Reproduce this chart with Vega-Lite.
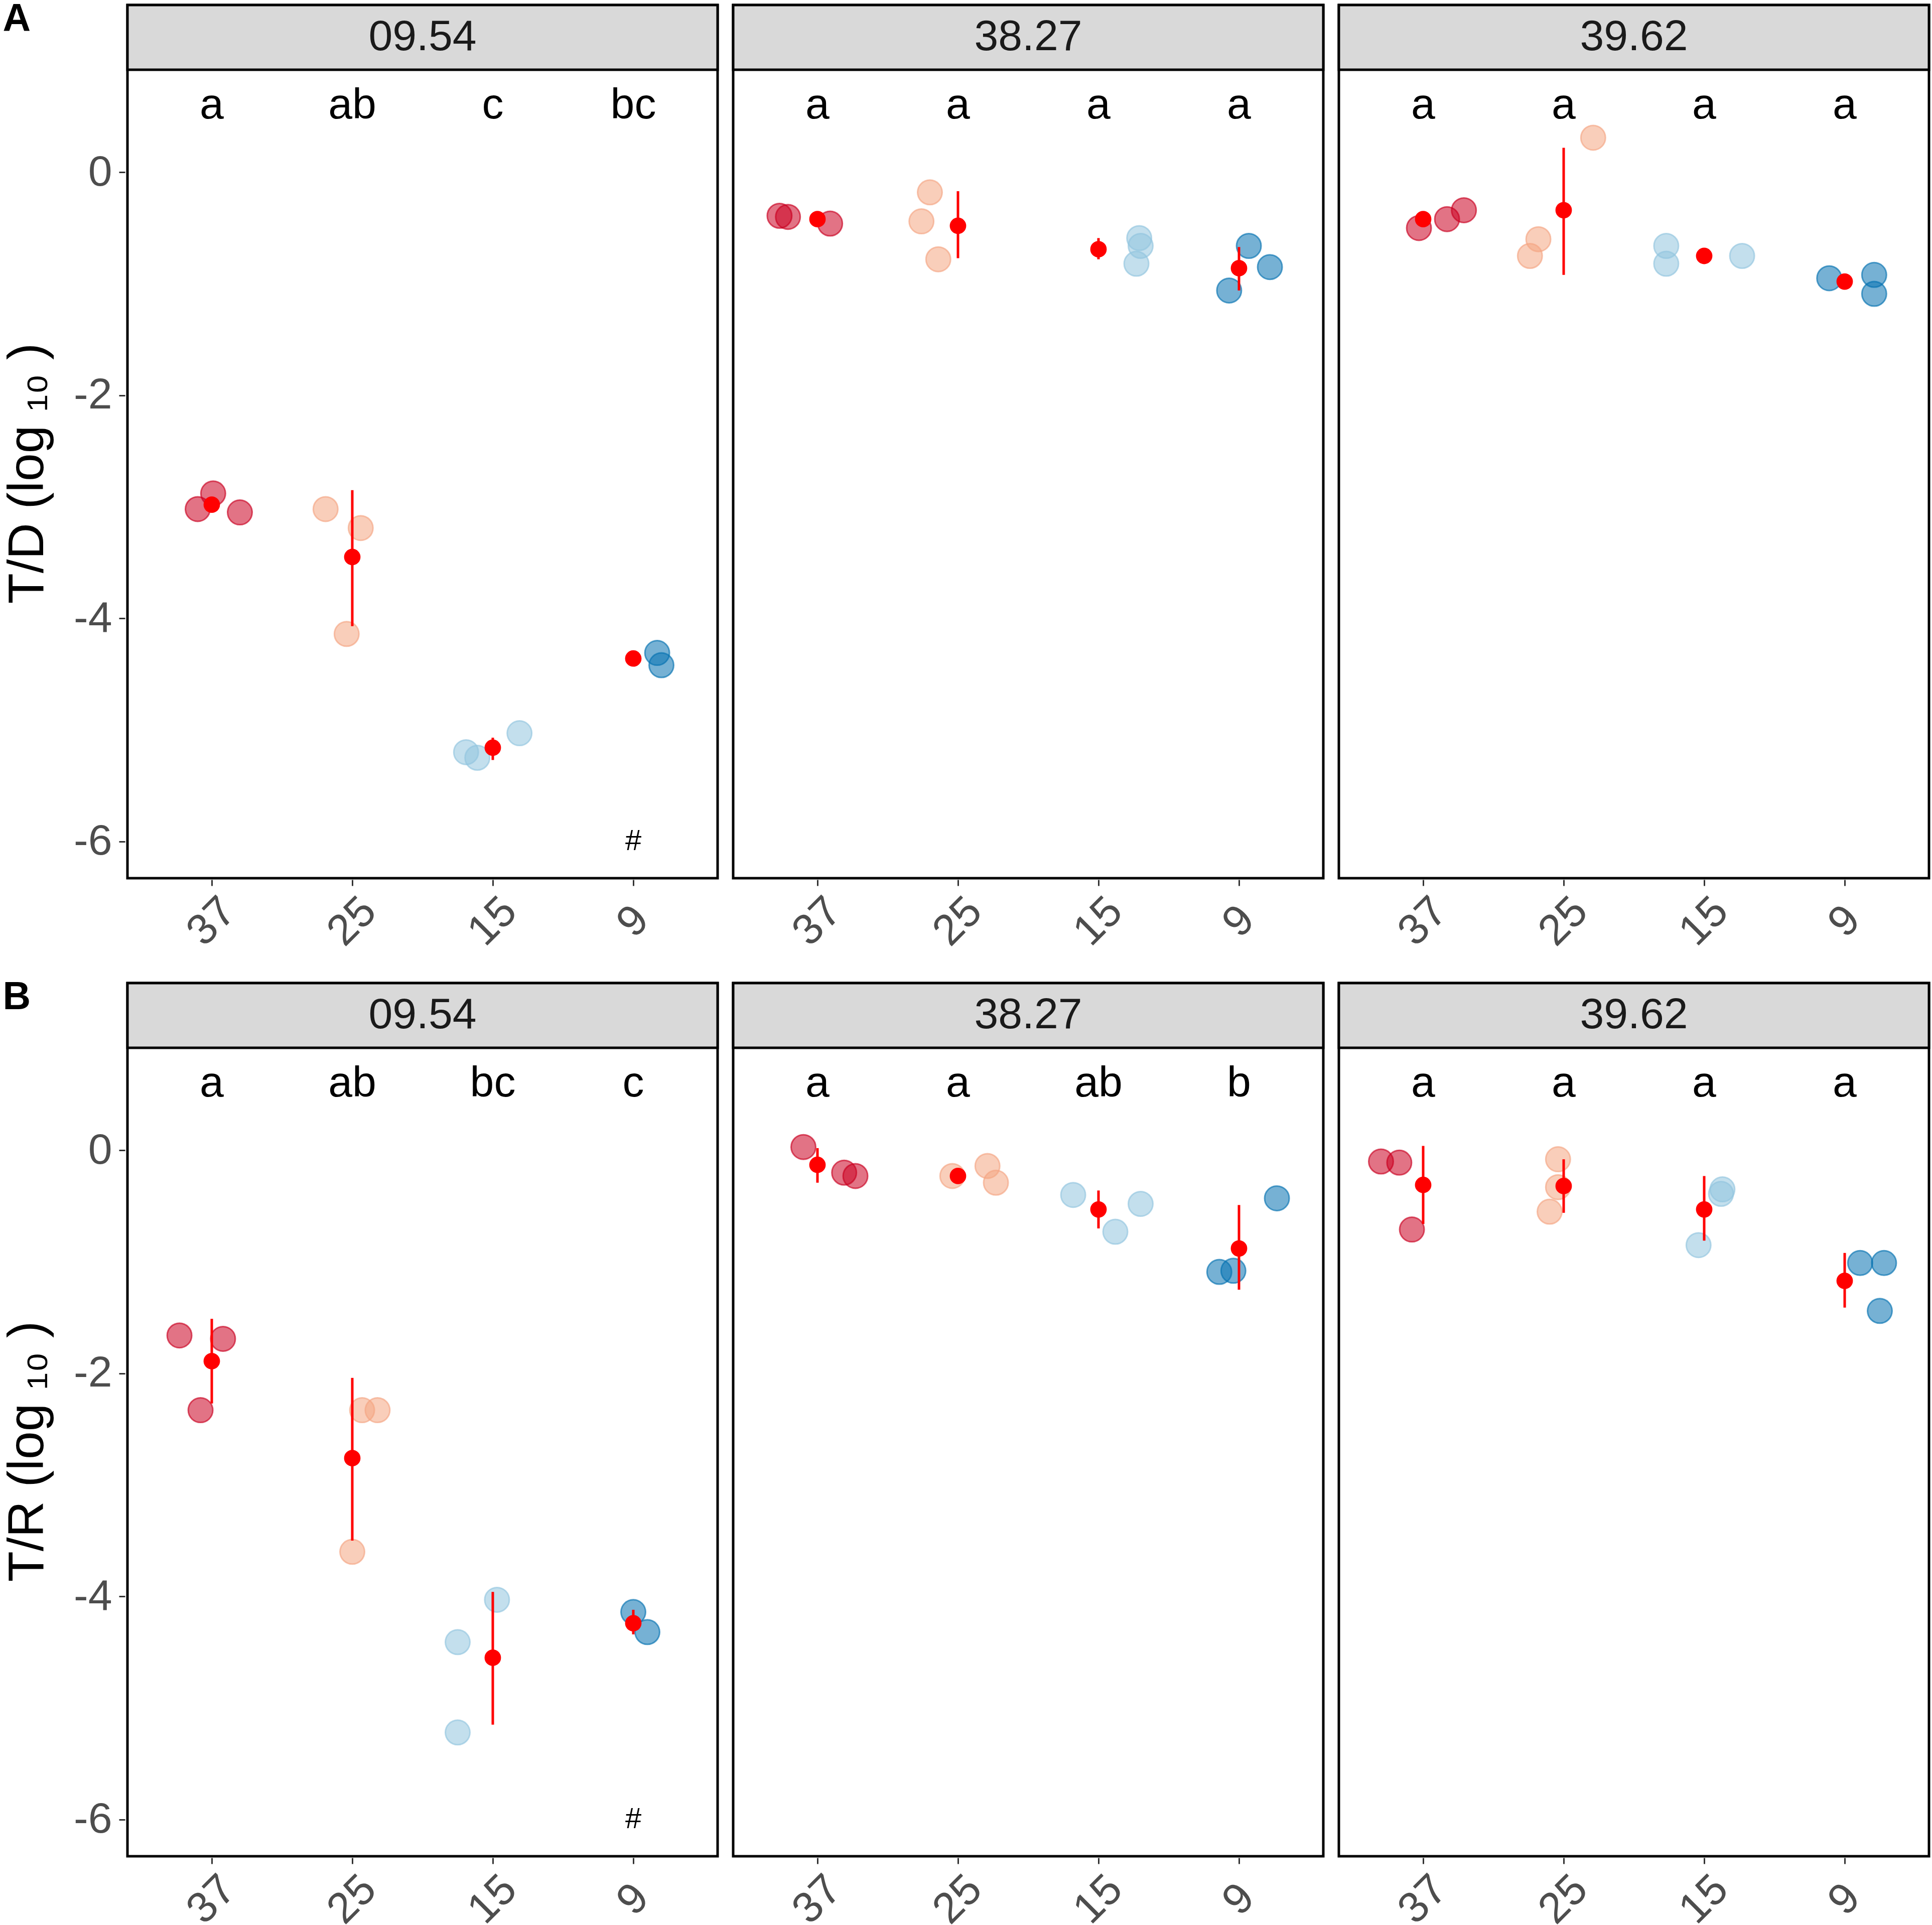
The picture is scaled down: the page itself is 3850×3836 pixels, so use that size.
{
  "$schema": "https://vega.github.io/schema/vega-lite/v6.json",
  "background": "white",
  "padding": {"top": 0, "left": 5, "right": 0, "bottom": 0},
  "config": {
    "font": "Liberation Sans",
    "view": {"stroke": "#000000", "strokeWidth": 5},
    "axis": {
      "labelFont": "Liberation Sans",
      "labelFontSize": 86,
      "labelColor": "#4D4D4D",
      "tickColor": "#333333",
      "tickWidth": 3,
      "tickSize": 12,
      "domain": false,
      "gridColor": "#EBEBEB",
      "gridWidth": 5,
      "titleFont": "Liberation Sans",
      "titleFontWeight": "normal",
      "titleColor": "#000000"
    },
    "title": {"font": "Liberation Sans", "fontSize": 77, "fontWeight": "bold", "color": "#000000", "anchor": "start", "frame": "bounds", "offset": -73}
  },
  "datasets": {
    "td": [
      {"site": "09.54", "kind": "strip"},
      {"site": "38.27", "kind": "strip"},
      {"site": "39.62", "kind": "strip"},

      {"site": "09.54", "temp": "37", "kind": "pt", "dx": -0.10, "v": -3.02},
      {"site": "09.54", "temp": "37", "kind": "pt", "dx": 0.01, "v": -2.88},
      {"site": "09.54", "temp": "37", "kind": "pt", "dx": 0.20, "v": -3.05},
      {"site": "09.54", "temp": "25", "kind": "pt", "dx": -0.19, "v": -3.02},
      {"site": "09.54", "temp": "25", "kind": "pt", "dx": 0.06, "v": -3.19},
      {"site": "09.54", "temp": "25", "kind": "pt", "dx": -0.04, "v": -4.14},
      {"site": "09.54", "temp": "15", "kind": "pt", "dx": -0.19, "v": -5.20},
      {"site": "09.54", "temp": "15", "kind": "pt", "dx": -0.11, "v": -5.25},
      {"site": "09.54", "temp": "15", "kind": "pt", "dx": 0.19, "v": -5.03},
      {"site": "09.54", "temp": "9", "kind": "pt", "dx": 0.17, "v": -4.31},
      {"site": "09.54", "temp": "9", "kind": "pt", "dx": 0.20, "v": -4.42},
      {"site": "09.54", "temp": "37", "kind": "mean", "v": -2.98, "lo": -3.03, "hi": -2.94},
      {"site": "09.54", "temp": "25", "kind": "mean", "v": -3.45, "lo": -4.07, "hi": -2.85},
      {"site": "09.54", "temp": "15", "kind": "mean", "v": -5.16, "lo": -5.27, "hi": -5.07},
      {"site": "09.54", "temp": "9", "kind": "mean", "v": -4.36, "lo": -4.38, "hi": -4.34},
      {"site": "09.54", "temp": "37", "kind": "lab", "lab": "a"},
      {"site": "09.54", "temp": "25", "kind": "lab", "lab": "ab"},
      {"site": "09.54", "temp": "15", "kind": "lab", "lab": "c"},
      {"site": "09.54", "temp": "9", "kind": "lab", "lab": "bc"},
      {"site": "09.54", "temp": "9", "kind": "hash", "lab": "#"},

      {"site": "38.27", "temp": "37", "kind": "pt", "dx": -0.27, "v": -0.39},
      {"site": "38.27", "temp": "37", "kind": "pt", "dx": -0.21, "v": -0.40},
      {"site": "38.27", "temp": "37", "kind": "pt", "dx": 0.09, "v": -0.46},
      {"site": "38.27", "temp": "25", "kind": "pt", "dx": -0.20, "v": -0.18},
      {"site": "38.27", "temp": "25", "kind": "pt", "dx": -0.26, "v": -0.44},
      {"site": "38.27", "temp": "25", "kind": "pt", "dx": -0.14, "v": -0.78},
      {"site": "38.27", "temp": "15", "kind": "pt", "dx": 0.29, "v": -0.59},
      {"site": "38.27", "temp": "15", "kind": "pt", "dx": 0.30, "v": -0.66},
      {"site": "38.27", "temp": "15", "kind": "pt", "dx": 0.27, "v": -0.82},
      {"site": "38.27", "temp": "9", "kind": "pt", "dx": 0.07, "v": -0.66},
      {"site": "38.27", "temp": "9", "kind": "pt", "dx": 0.22, "v": -0.85},
      {"site": "38.27", "temp": "9", "kind": "pt", "dx": -0.07, "v": -1.06},
      {"site": "38.27", "temp": "37", "kind": "mean", "v": -0.42, "lo": -0.45, "hi": -0.39},
      {"site": "38.27", "temp": "25", "kind": "mean", "v": -0.48, "lo": -0.77, "hi": -0.17},
      {"site": "38.27", "temp": "15", "kind": "mean", "v": -0.69, "lo": -0.78, "hi": -0.59},
      {"site": "38.27", "temp": "9", "kind": "mean", "v": -0.86, "lo": -1.06, "hi": -0.67},
      {"site": "38.27", "temp": "37", "kind": "lab", "lab": "a"},
      {"site": "38.27", "temp": "25", "kind": "lab", "lab": "a"},
      {"site": "38.27", "temp": "15", "kind": "lab", "lab": "a"},
      {"site": "38.27", "temp": "9", "kind": "lab", "lab": "a"},

      {"site": "39.62", "temp": "37", "kind": "pt", "dx": -0.03, "v": -0.50},
      {"site": "39.62", "temp": "37", "kind": "pt", "dx": 0.17, "v": -0.42},
      {"site": "39.62", "temp": "37", "kind": "pt", "dx": 0.29, "v": -0.34},
      {"site": "39.62", "temp": "25", "kind": "pt", "dx": 0.21, "v": 0.31},
      {"site": "39.62", "temp": "25", "kind": "pt", "dx": -0.18, "v": -0.60},
      {"site": "39.62", "temp": "25", "kind": "pt", "dx": -0.24, "v": -0.75},
      {"site": "39.62", "temp": "15", "kind": "pt", "dx": -0.27, "v": -0.66},
      {"site": "39.62", "temp": "15", "kind": "pt", "dx": -0.27, "v": -0.82},
      {"site": "39.62", "temp": "15", "kind": "pt", "dx": 0.27, "v": -0.75},
      {"site": "39.62", "temp": "9", "kind": "pt", "dx": -0.11, "v": -0.95},
      {"site": "39.62", "temp": "9", "kind": "pt", "dx": 0.21, "v": -0.92},
      {"site": "39.62", "temp": "9", "kind": "pt", "dx": 0.21, "v": -1.09},
      {"site": "39.62", "temp": "37", "kind": "mean", "v": -0.42, "lo": -0.45, "hi": -0.39},
      {"site": "39.62", "temp": "25", "kind": "mean", "v": -0.34, "lo": -0.92, "hi": 0.22},
      {"site": "39.62", "temp": "15", "kind": "mean", "v": -0.75, "lo": -0.77, "hi": -0.73},
      {"site": "39.62", "temp": "9", "kind": "mean", "v": -0.98, "lo": -1.00, "hi": -0.96},
      {"site": "39.62", "temp": "37", "kind": "lab", "lab": "a"},
      {"site": "39.62", "temp": "25", "kind": "lab", "lab": "a"},
      {"site": "39.62", "temp": "15", "kind": "lab", "lab": "a"},
      {"site": "39.62", "temp": "9", "kind": "lab", "lab": "a"}
    ],
    "tr": [
      {"site": "09.54", "kind": "strip"},
      {"site": "38.27", "kind": "strip"},
      {"site": "39.62", "kind": "strip"},

      {"site": "09.54", "temp": "37", "kind": "pt", "dx": -0.23, "v": -1.66},
      {"site": "09.54", "temp": "37", "kind": "pt", "dx": 0.08, "v": -1.69},
      {"site": "09.54", "temp": "37", "kind": "pt", "dx": -0.08, "v": -2.33},
      {"site": "09.54", "temp": "25", "kind": "pt", "dx": 0.07, "v": -2.33},
      {"site": "09.54", "temp": "25", "kind": "pt", "dx": 0.18, "v": -2.33},
      {"site": "09.54", "temp": "25", "kind": "pt", "dx": 0.00, "v": -3.60},
      {"site": "09.54", "temp": "15", "kind": "pt", "dx": 0.03, "v": -4.03},
      {"site": "09.54", "temp": "15", "kind": "pt", "dx": -0.25, "v": -4.41},
      {"site": "09.54", "temp": "15", "kind": "pt", "dx": -0.25, "v": -5.22},
      {"site": "09.54", "temp": "9", "kind": "pt", "dx": 0.00, "v": -4.14},
      {"site": "09.54", "temp": "9", "kind": "pt", "dx": 0.10, "v": -4.32},
      {"site": "09.54", "temp": "37", "kind": "mean", "v": -1.89, "lo": -2.27, "hi": -1.51},
      {"site": "09.54", "temp": "25", "kind": "mean", "v": -2.76, "lo": -3.50, "hi": -2.04},
      {"site": "09.54", "temp": "15", "kind": "mean", "v": -4.55, "lo": -5.15, "hi": -3.96},
      {"site": "09.54", "temp": "9", "kind": "mean", "v": -4.24, "lo": -4.34, "hi": -4.12},
      {"site": "09.54", "temp": "37", "kind": "lab", "lab": "a"},
      {"site": "09.54", "temp": "25", "kind": "lab", "lab": "ab"},
      {"site": "09.54", "temp": "15", "kind": "lab", "lab": "bc"},
      {"site": "09.54", "temp": "9", "kind": "lab", "lab": "c"},
      {"site": "09.54", "temp": "9", "kind": "hash", "lab": "#"},

      {"site": "38.27", "temp": "37", "kind": "pt", "dx": -0.10, "v": 0.03},
      {"site": "38.27", "temp": "37", "kind": "pt", "dx": 0.19, "v": -0.20},
      {"site": "38.27", "temp": "37", "kind": "pt", "dx": 0.27, "v": -0.23},
      {"site": "38.27", "temp": "25", "kind": "pt", "dx": -0.04, "v": -0.23},
      {"site": "38.27", "temp": "25", "kind": "pt", "dx": 0.21, "v": -0.14},
      {"site": "38.27", "temp": "25", "kind": "pt", "dx": 0.27, "v": -0.29},
      {"site": "38.27", "temp": "15", "kind": "pt", "dx": -0.18, "v": -0.40},
      {"site": "38.27", "temp": "15", "kind": "pt", "dx": 0.30, "v": -0.48},
      {"site": "38.27", "temp": "15", "kind": "pt", "dx": 0.12, "v": -0.73},
      {"site": "38.27", "temp": "9", "kind": "pt", "dx": 0.27, "v": -0.43},
      {"site": "38.27", "temp": "9", "kind": "pt", "dx": -0.14, "v": -1.09},
      {"site": "38.27", "temp": "9", "kind": "pt", "dx": -0.04, "v": -1.08},
      {"site": "38.27", "temp": "37", "kind": "mean", "v": -0.13, "lo": -0.29, "hi": 0.02},
      {"site": "38.27", "temp": "25", "kind": "mean", "v": -0.23, "lo": -0.25, "hi": -0.21},
      {"site": "38.27", "temp": "15", "kind": "mean", "v": -0.53, "lo": -0.70, "hi": -0.36},
      {"site": "38.27", "temp": "9", "kind": "mean", "v": -0.88, "lo": -1.25, "hi": -0.49},
      {"site": "38.27", "temp": "37", "kind": "lab", "lab": "a"},
      {"site": "38.27", "temp": "25", "kind": "lab", "lab": "a"},
      {"site": "38.27", "temp": "15", "kind": "lab", "lab": "ab"},
      {"site": "38.27", "temp": "9", "kind": "lab", "lab": "b"},

      {"site": "39.62", "temp": "37", "kind": "pt", "dx": -0.30, "v": -0.10},
      {"site": "39.62", "temp": "37", "kind": "pt", "dx": -0.17, "v": -0.11},
      {"site": "39.62", "temp": "37", "kind": "pt", "dx": -0.08, "v": -0.71},
      {"site": "39.62", "temp": "25", "kind": "pt", "dx": -0.04, "v": -0.08},
      {"site": "39.62", "temp": "25", "kind": "pt", "dx": -0.04, "v": -0.33},
      {"site": "39.62", "temp": "25", "kind": "pt", "dx": -0.10, "v": -0.55},
      {"site": "39.62", "temp": "15", "kind": "pt", "dx": 0.13, "v": -0.35},
      {"site": "39.62", "temp": "15", "kind": "pt", "dx": 0.12, "v": -0.39},
      {"site": "39.62", "temp": "15", "kind": "pt", "dx": -0.04, "v": -0.85},
      {"site": "39.62", "temp": "9", "kind": "pt", "dx": 0.11, "v": -1.01},
      {"site": "39.62", "temp": "9", "kind": "pt", "dx": 0.28, "v": -1.01},
      {"site": "39.62", "temp": "9", "kind": "pt", "dx": 0.25, "v": -1.44},
      {"site": "39.62", "temp": "37", "kind": "mean", "v": -0.31, "lo": -0.66, "hi": 0.04},
      {"site": "39.62", "temp": "25", "kind": "mean", "v": -0.32, "lo": -0.56, "hi": -0.08},
      {"site": "39.62", "temp": "15", "kind": "mean", "v": -0.53, "lo": -0.81, "hi": -0.23},
      {"site": "39.62", "temp": "9", "kind": "mean", "v": -1.17, "lo": -1.41, "hi": -0.92},
      {"site": "39.62", "temp": "37", "kind": "lab", "lab": "a"},
      {"site": "39.62", "temp": "25", "kind": "lab", "lab": "a"},
      {"site": "39.62", "temp": "15", "kind": "lab", "lab": "a"},
      {"site": "39.62", "temp": "9", "kind": "lab", "lab": "a"}
    ]
  },
  "spacing": 48,
  "vconcat": [
    {
      "title": {"text": "A"},
      "data": {"name": "td"},
      "facet": {"column": {"field": "site", "type": "nominal", "header": {"labels": false, "title": null}}},
      "spacing": 21,
      "spec": {
        "width": 1176,
        "height": 1740,
        "encoding": {
          "x": {
            "field": "temp", "type": "nominal", "sort": ["37", "25", "15", "9"],
            "scale": {"domain": ["37", "25", "15", "9"], "paddingInner": 0, "paddingOuter": 0.1},
            "axis": {"title": null, "labelAngle": -45, "labelAlign": "center", "labelBaseline": "middle", "labelPadding": 71, "bandPosition": 0.5}
          }
        },
        "layer": [
          {
            "transform": [{"filter": "datum.kind === 'strip'"}],
            "mark": {"type": "rect", "fill": "#D9D9D9", "stroke": "#000000", "strokeWidth": 5},
            "encoding": {
              "x": null,
              "y": {
                "datum": 0.92, "type": "quantitative",
                "scale": {"domain": [-6.33, 1.5], "nice": false, "zero": false},
                "axis": {
                  "title": "T/D (log ₁₀ )", "titleFontSize": 100, "titlePadding": 40, "titleY": 933,
                  "values": [-6, -5, -4, -3, -2, -1, 0],
                  "labelExpr": "datum.value % 2 === 0 ? toString(datum.value) : ''",
                  "labelPadding": 14,
                  "gridWidth": {"condition": {"test": "datum.value % 2 === 0", "value": 5}, "value": 2.5},
                  "tickOpacity": {"condition": {"test": "datum.value % 2 === 0", "value": 1}, "value": 0}
                }
              },
              "y2": {"datum": 1.5}
            }
          },
          {
            "transform": [{"filter": "datum.kind === 'strip'"}],
            "mark": {"type": "text", "fontSize": 86, "color": "#1A1A1A", "baseline": "middle"},
            "encoding": {"x": null, "y": {"datum": 1.21, "type": "quantitative"}, "text": {"field": "site"}}
          },
          {
            "transform": [{"filter": "datum.kind === 'pt'"}],
            "mark": {"type": "circle", "size": 2400, "fillOpacity": 0.55, "strokeOpacity": 0.65, "strokeWidth": 3},
            "encoding": {
              "xOffset": {"field": "dx", "type": "quantitative", "scale": {"domain": [-0.5, 0.5]}},
              "y": {"field": "v", "type": "quantitative"},
              "color": {"field": "temp", "type": "nominal", "scale": {"domain": ["37", "25", "15", "9"], "range": ["#CA0020", "#F4A582", "#92C5DE", "#0571B0"]}, "legend": null},
              "stroke": {"field": "temp", "type": "nominal", "scale": {"domain": ["37", "25", "15", "9"], "range": ["#CA0020", "#F4A582", "#92C5DE", "#0571B0"]}, "legend": null}
            }
          },
          {
            "transform": [{"filter": "datum.kind === 'mean'"}],
            "mark": {"type": "rule", "color": "#FF0000", "strokeWidth": 5},
            "encoding": {"y": {"field": "lo", "type": "quantitative"}, "y2": {"field": "hi"}}
          },
          {
            "transform": [{"filter": "datum.kind === 'mean'"}],
            "mark": {"type": "circle", "size": 1075, "color": "#FF0000", "opacity": 1},
            "encoding": {"y": {"field": "v", "type": "quantitative"}}
          },
          {
            "transform": [{"filter": "datum.kind === 'lab'"}],
            "mark": {"type": "text", "fontSize": 86, "color": "#000000", "baseline": "middle"},
            "encoding": {"y": {"datum": 0.6, "type": "quantitative"}, "text": {"field": "lab"}}
          },
          {
            "transform": [{"filter": "datum.kind === 'hash'"}],
            "mark": {"type": "text", "fontSize": 58, "color": "#000000", "baseline": "middle"},
            "encoding": {"y": {"datum": -6, "type": "quantitative"}, "text": {"field": "lab"}}
          }
        ]
      }
    },
    {
      "title": {"text": "B"},
      "data": {"name": "tr"},
      "facet": {"column": {"field": "site", "type": "nominal", "header": {"labels": false, "title": null}}},
      "spacing": 21,
      "spec": {
        "width": 1176,
        "height": 1740,
        "encoding": {
          "x": {
            "field": "temp", "type": "nominal", "sort": ["37", "25", "15", "9"],
            "scale": {"domain": ["37", "25", "15", "9"], "paddingInner": 0, "paddingOuter": 0.1},
            "axis": {"title": null, "labelAngle": -45, "labelAlign": "center", "labelBaseline": "middle", "labelPadding": 71, "bandPosition": 0.5}
          }
        },
        "layer": [
          {
            "transform": [{"filter": "datum.kind === 'strip'"}],
            "mark": {"type": "rect", "fill": "#D9D9D9", "stroke": "#000000", "strokeWidth": 5},
            "encoding": {
              "x": null,
              "y": {
                "datum": 0.92, "type": "quantitative",
                "scale": {"domain": [-6.33, 1.5], "nice": false, "zero": false},
                "axis": {
                  "title": "T/R (log ₁₀ )", "titleFontSize": 100, "titlePadding": 40, "titleY": 933,
                  "values": [-6, -5, -4, -3, -2, -1, 0],
                  "labelExpr": "datum.value % 2 === 0 ? toString(datum.value) : ''",
                  "labelPadding": 14,
                  "gridWidth": {"condition": {"test": "datum.value % 2 === 0", "value": 5}, "value": 2.5},
                  "tickOpacity": {"condition": {"test": "datum.value % 2 === 0", "value": 1}, "value": 0}
                }
              },
              "y2": {"datum": 1.5}
            }
          },
          {
            "transform": [{"filter": "datum.kind === 'strip'"}],
            "mark": {"type": "text", "fontSize": 86, "color": "#1A1A1A", "baseline": "middle"},
            "encoding": {"x": null, "y": {"datum": 1.21, "type": "quantitative"}, "text": {"field": "site"}}
          },
          {
            "transform": [{"filter": "datum.kind === 'pt'"}],
            "mark": {"type": "circle", "size": 2400, "fillOpacity": 0.55, "strokeOpacity": 0.65, "strokeWidth": 3},
            "encoding": {
              "xOffset": {"field": "dx", "type": "quantitative", "scale": {"domain": [-0.5, 0.5]}},
              "y": {"field": "v", "type": "quantitative"},
              "color": {"field": "temp", "type": "nominal", "scale": {"domain": ["37", "25", "15", "9"], "range": ["#CA0020", "#F4A582", "#92C5DE", "#0571B0"]}, "legend": null},
              "stroke": {"field": "temp", "type": "nominal", "scale": {"domain": ["37", "25", "15", "9"], "range": ["#CA0020", "#F4A582", "#92C5DE", "#0571B0"]}, "legend": null}
            }
          },
          {
            "transform": [{"filter": "datum.kind === 'mean'"}],
            "mark": {"type": "rule", "color": "#FF0000", "strokeWidth": 5},
            "encoding": {"y": {"field": "lo", "type": "quantitative"}, "y2": {"field": "hi"}}
          },
          {
            "transform": [{"filter": "datum.kind === 'mean'"}],
            "mark": {"type": "circle", "size": 1075, "color": "#FF0000", "opacity": 1},
            "encoding": {"y": {"field": "v", "type": "quantitative"}}
          },
          {
            "transform": [{"filter": "datum.kind === 'lab'"}],
            "mark": {"type": "text", "fontSize": 86, "color": "#000000", "baseline": "middle"},
            "encoding": {"y": {"datum": 0.6, "type": "quantitative"}, "text": {"field": "lab"}}
          },
          {
            "transform": [{"filter": "datum.kind === 'hash'"}],
            "mark": {"type": "text", "fontSize": 58, "color": "#000000", "baseline": "middle"},
            "encoding": {"y": {"datum": -6, "type": "quantitative"}, "text": {"field": "lab"}}
          }
        ]
      }
    }
  ]
}
